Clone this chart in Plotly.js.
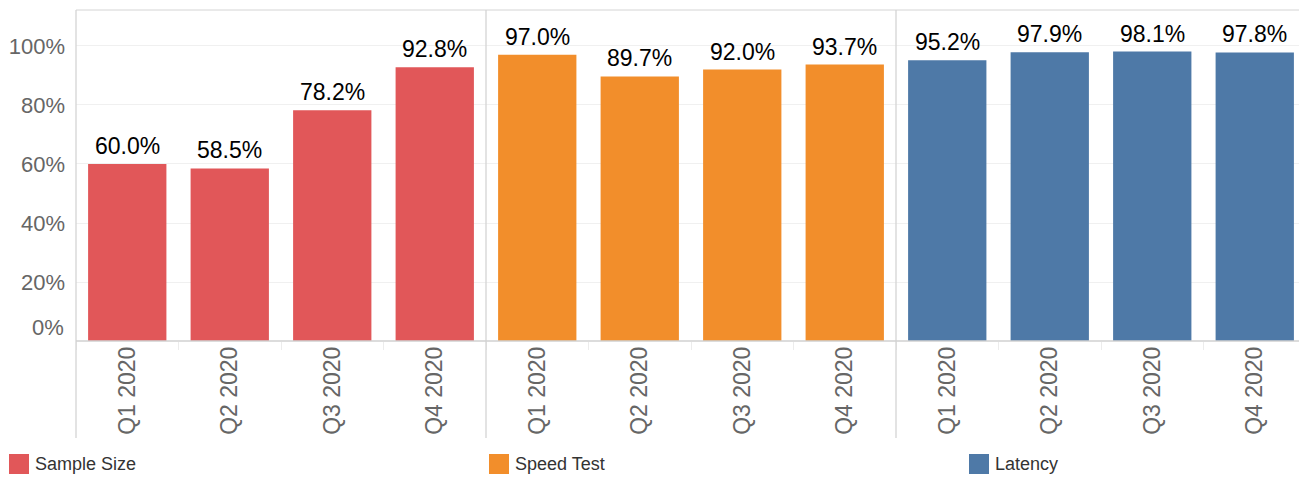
<!DOCTYPE html>
<html>
<head>
<meta charset="utf-8">
<script src="https://cdn.plot.ly/plotly-3.0.1.min.js"></script>
<style>html,body{margin:0;padding:0;background:#fff;}#chart{width:1299px;height:478px;}</style>
</head>
<body>
<div id="chart"></div>
<script>
const categories = ['Q1 2020', 'Q2 2020', 'Q3 2020', 'Q4 2020'];
const seriesNames = ['Sample Size', 'Speed Test', 'Latency'];
const sampleSize = [60.0, 58.5, 78.2, 92.8];
const speedTest = [97.0, 89.7, 92.0, 93.7];
const latency = [95.2, 97.9, 98.1, 97.8];
const yTickVals = [20, 40, 60, 80, 100];
const yTickText = ['20%', '40%', '60%', '80%', '100%'];

const colors = ['#E15759', '#F28E2B', '#4E79A7'];
const seriesValues = [sampleSize, speedTest, latency];

const W = 1299, H = 478;
const M = {l: 76, r: 0, t: 10, b: 137};
const PW = W - M.l - M.r, PH = H - M.t - M.b;
const px = x => (x - M.l) / PW;
const py = y => (H - M.b - y) / PH;

const FONT = 'Liberation Sans, Arial, sans-serif';
const CAT = 102.5; // px per category
const panelEdges = [76, 486, 896, 1299];
const axisIds = ['x', 'x2', 'x3'];

const traces = seriesValues.map((vals, i) => ({
  type: 'bar',
  x: categories,
  y: vals,
  xaxis: axisIds[i],
  yaxis: 'y',
  name: seriesNames[i],
  marker: {color: colors[i]},
  width: 0.764,
  hoverinfo: 'skip',
  showlegend: false
}));

const xBase = {
  type: 'category',
  tickangle: -90,
  tickfont: {family: FONT, size: 23, color: '#666'},
  showgrid: false,
  zeroline: false,
  showline: false,
  ticks: 'outside',
  tickson: 'boundaries',
  ticklen: 8,
  tickcolor: '#ececec',
  anchor: 'y',
  fixedrange: true
};

const shapes = [];
const annotations = [];
// top border
shapes.push({type: 'line', xref: 'paper', yref: 'paper', x0: 0, x1: 1, y0: 1, y1: 1, line: {color: '#d4d4d4', width: 1}});
// left line and dividers extending below
panelEdges.slice(0, 3).forEach(xp => {
  const x = px(xp);
  shapes.push({type: 'line', xref: 'paper', yref: 'paper', x0: x, x1: x, y0: py(438), y1: 1, line: {color: '#d4d4d4', width: 1.3}});
});
// baseline
shapes.push({type: 'line', xref: 'paper', yref: 'paper', x0: 0, x1: 1, y0: 0, y1: 0, line: {color: '#d0d0d0', width: 1.3}});

// value labels
seriesValues.forEach((vals, i) => {
  vals.forEach((v, j) => {
    annotations.push({xref: axisIds[i], yref: 'y', x: categories[j], y: v, yanchor: 'bottom', yshift: 3,
      text: v.toFixed(1) + '%', showarrow: false, font: {family: FONT, size: 23, color: '#000'}});
  });
});

// 0% label (shifted up as in reference)
annotations.push({xref: 'paper', yref: 'paper', x: px(66), y: py(327), xanchor: 'right', yanchor: 'middle', text: '0%', showarrow: false, font: {family: FONT, size: 22, color: '#666'}});

// legend
const legX = [9, 489, 969];
seriesNames.forEach((n, i) => {
  shapes.push({type: 'rect', xref: 'paper', yref: 'paper', x0: px(legX[i]), x1: px(legX[i] + 20), y0: py(474), y1: py(454), fillcolor: colors[i], line: {width: 0}});
  annotations.push({xref: 'paper', yref: 'paper', x: px(legX[i] + 24), y: py(464), xanchor: 'left', yanchor: 'middle', text: n, showarrow: false, font: {family: FONT, size: 18, color: '#333'}});
});

const xaxes = {};
axisIds.forEach((id, i) => {
  const a = panelEdges[i], b = panelEdges[i + 1];
  const key = id === 'x' ? 'xaxis' : 'xaxis' + id.slice(1);
  xaxes[key] = Object.assign({}, xBase, {
    domain: [px(a), px(b)],
    range: [-0.5, -0.5 + (b - a) / CAT]
  });
});

const layout = Object.assign({
  width: W, height: H,
  margin: M,
  paper_bgcolor: '#fff',
  plot_bgcolor: '#fff',
  yaxis: {
    range: [0, 112.2],
    tickvals: yTickVals,
    ticktext: yTickText,
    tickfont: {family: FONT, size: 22, color: '#666'},
    showgrid: true,
    gridcolor: '#f0f0f0',
    gridwidth: 1,
    zeroline: false,
    showline: false,
    ticks: '',
    ticklabelstandoff: 10,
    fixedrange: true
  },
  shapes: shapes,
  annotations: annotations,
  showlegend: false
}, xaxes);

Plotly.newPlot('chart', traces, layout, {displayModeBar: false, staticPlot: true});
</script>
</body>
</html>
